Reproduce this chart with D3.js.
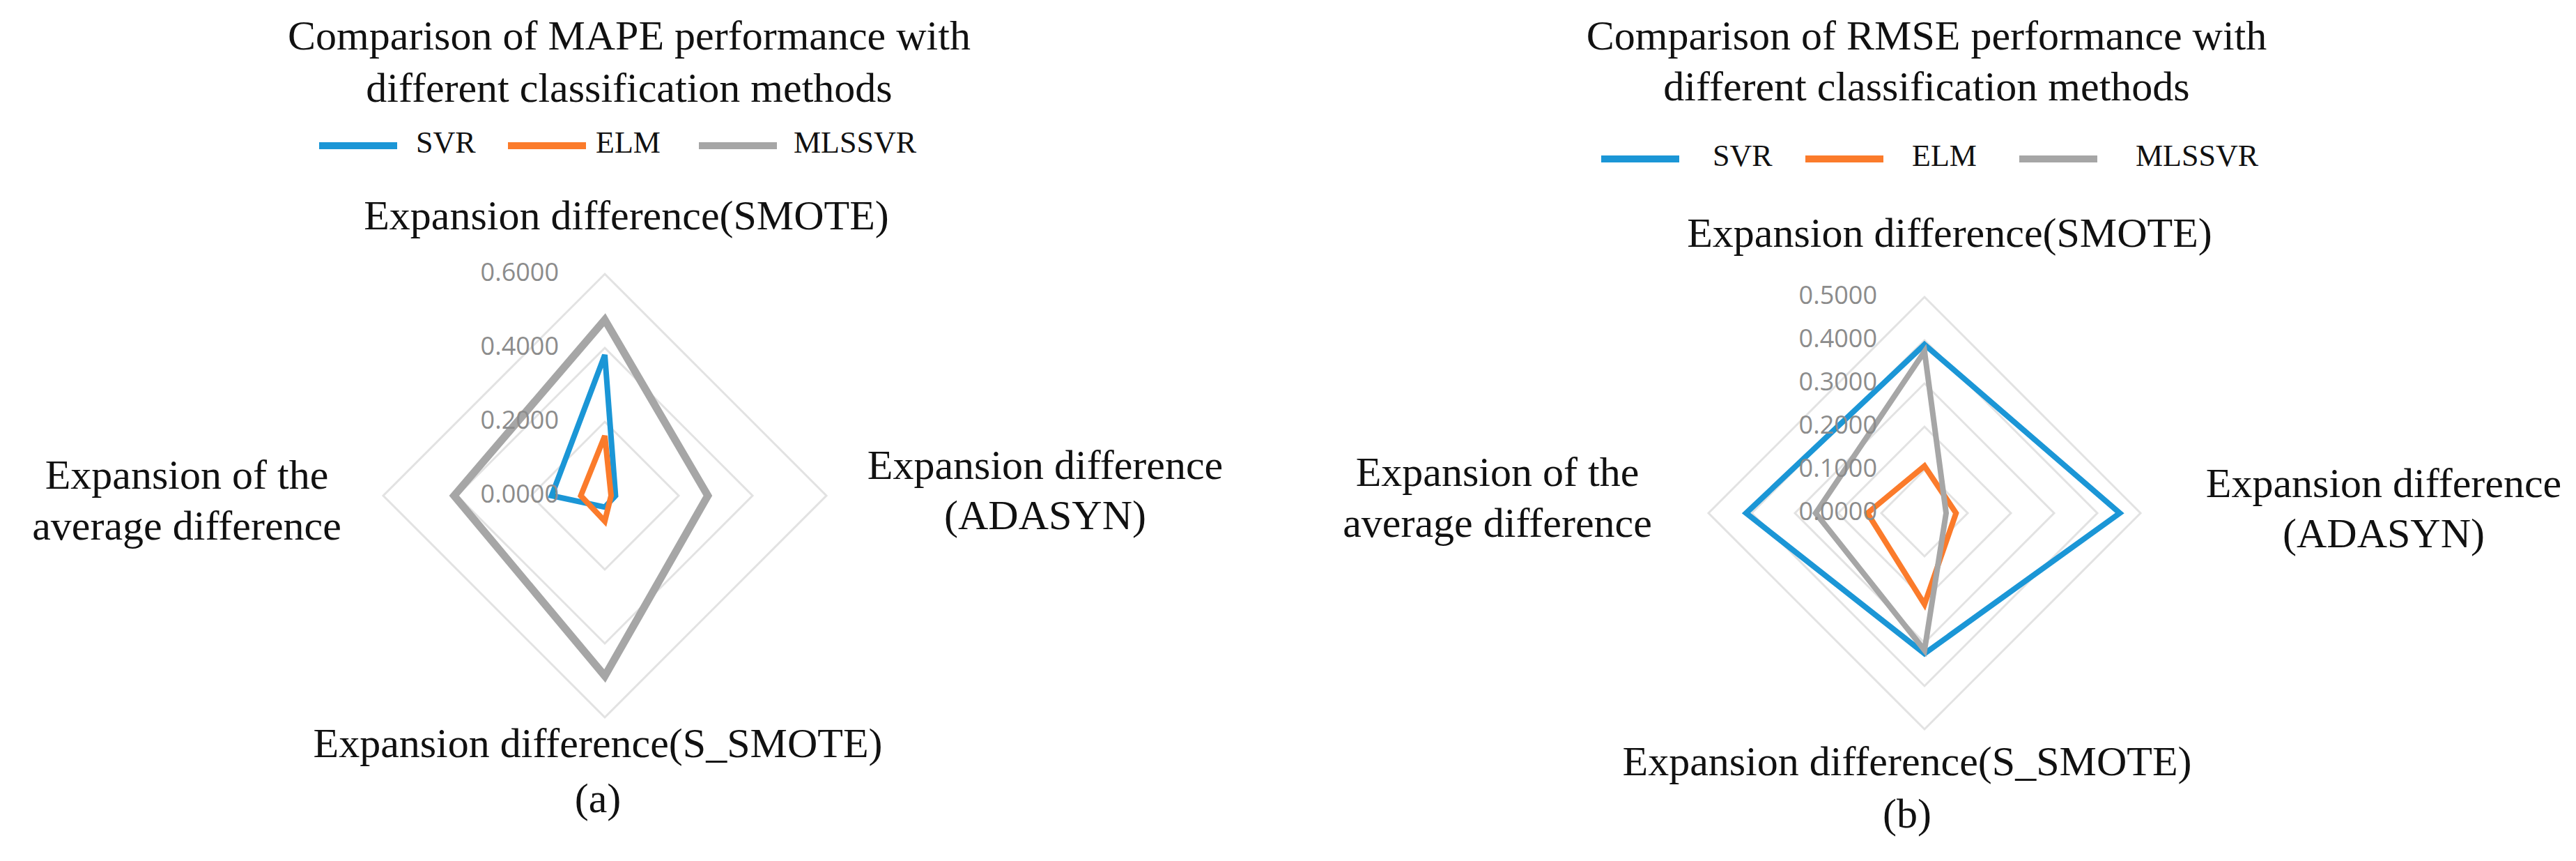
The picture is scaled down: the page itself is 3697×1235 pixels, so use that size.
<!DOCTYPE html>
<html>
<head>
<meta charset="utf-8">
<script src="https://cdn.jsdelivr.net/npm/d3@7"></script>
<style>
  body { margin: 0; background: #fff; }
  text { font-family: "Liberation Serif", "DejaVu Serif", serif; }
</style>
</head>
<body>
<svg id="chart" width="3697" height="1235"></svg>
<script>
// axis order: top, right, bottom, left
var axes = ["SMOTE", "ADASYN", "S_SMOTE", "Average"];
var seriesNames = ["SVR", "ELM", "MLSSVR"];
var colors = ["#1b96d6", "#fb7b2b", "#a6a6a6"];

var mapeSVR = [0.381, 0.029, 0.031, 0.144];
var mapeELM = [0.162, 0.017, 0.069, 0.065];
var mapeMLSSVR = [0.476, 0.279, 0.488, 0.408];
var mapeTicks = [0, 0.2, 0.4, 0.6];

var rmseSVR = [0.390, 0.452, 0.325, 0.413];
var rmseELM = [0.109, 0.073, 0.211, 0.132];
var rmseMLSSVR = [0.374, 0.050, 0.317, 0.252];
var rmseTicks = [0, 0.1, 0.2, 0.3, 0.4, 0.5];

var svg = d3.select("#chart");

function radar(opt) {
	var g = svg.append("g").attr("transform", "translate(" + opt.cx + "," + opt.cy + ")");
	var r = d3.scaleLinear().domain([0, d3.max(opt.ticks)]).range([0, opt.radius]);
	var angle = function(i) { return i * Math.PI / 2 - Math.PI / 2; };
	var line = d3.lineRadial()
		.angle(function(d, i) { return angle(i) + Math.PI / 2; })
		.radius(function(d) { return r(d); })
		.curve(d3.curveLinearClosed);

	// grid rings
	g.selectAll(".ring")
		.data(opt.ticks.filter(function(t) { return t > 0; }))
		.enter().append("path")
		.attr("d", function(t) { return line([t, t, t, t]); })
		.attr("fill", "none")
		.attr("stroke", "#e2e2e2")
		.attr("stroke-width", 3);

	// series
	opt.series.forEach(function(s, k) {
		g.append("path")
			.attr("d", line(s))
			.attr("fill", "none")
			.attr("stroke", colors[k])
			.attr("stroke-width", opt.widths[k])
			.attr("stroke-linejoin", "miter");
	});

	// tick labels
	g.selectAll(".tick")
		.data(opt.ticks)
		.enter().append("text")
		.attr("x", opt.tickX)
		.attr("y", function(t) { return -r(t); })
		.attr("text-anchor", "end")
		.attr("dominant-baseline", "middle")
		.style("font-family", "'Open Sans', 'DejaVu Sans', sans-serif")
		.style("font-size", "36px")
		.attr("fill", "#8c8c8c")
		.text(function(t) { return d3.format(".4f")(t); });
}

function label(lines, x, y, size, gap) {
	var t = svg.append("text")
		.attr("text-anchor", "middle")
		.style("font-size", size + "px")
		.attr("fill", "#111");
	lines.forEach(function(l, i) {
		t.append("tspan").attr("x", x).attr("y", y + i * gap)
			.attr("dominant-baseline", "middle").text(l);
	});
}

function legend(y, lineX, textX) {
	seriesNames.forEach(function(n, k) {
		svg.append("line")
			.attr("x1", lineX[k]).attr("x2", lineX[k] + 112)
			.attr("y1", y).attr("y2", y)
			.attr("stroke", colors[k]).attr("stroke-width", 10);
		svg.append("text").attr("x", textX[k]).attr("y", y)
			.attr("dominant-baseline", "middle")
			.style("font-size", "44px").attr("fill", "#111").text(n);
	});
}

// (a) MAPE
label(["Comparison of MAPE performance with", "different classification methods"], 903, 57, 60, 75);
legend(209, [458, 729, 1003], [597, 855, 1139]);
label(["Expansion difference(SMOTE)"], 899, 315, 60, 0);
label(["Expansion difference", "(ADASYN)"], 1500, 673, 60, 72);
label(["Expansion of the", "average difference"], 268, 687, 60, 73);
label(["Expansion difference(S_SMOTE)"], 858, 1072, 60, 0);
label(["(a)"], 858, 1151, 60, 0);
radar({ cx: 868, cy: 711, radius: 318, ticks: mapeTicks, tickX: -66,
	series: [mapeSVR, mapeELM, mapeMLSSVR], widths: [8, 8, 11] });

// (b) RMSE
label(["Comparison of RMSE performance with", "different classification methods"], 2765, 57, 60, 73);
legend(228, [2298, 2591, 2898], [2458, 2744, 3065]);
label(["Expansion difference(SMOTE)"], 2798, 340, 60, 0);
label(["Expansion difference", "(ADASYN)"], 3421, 699, 60, 72);
label(["Expansion of the", "average difference"], 2149, 683, 60, 73);
label(["Expansion difference(S_SMOTE)"], 2737, 1098, 60, 0);
label(["(b)"], 2737, 1173, 60, 0);
radar({ cx: 2762, cy: 736, radius: 310, ticks: rmseTicks, tickX: -68,
	series: [rmseSVR, rmseELM, rmseMLSSVR], widths: [8, 8, 8] });
</script>
</body>
</html>
